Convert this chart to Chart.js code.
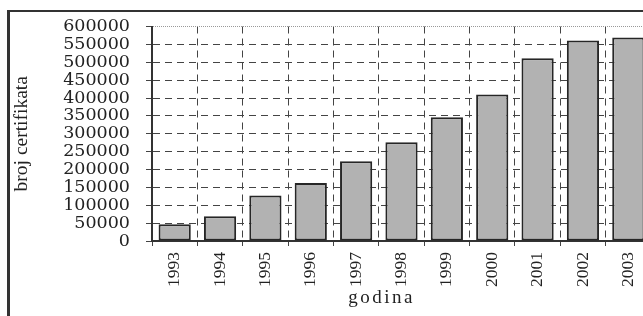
<!DOCTYPE html>
<html>
<head>
<meta charset="utf-8">
<script src="https://cdn.jsdelivr.net/npm/chart.js@4.4.0/dist/chart.umd.min.js"></script>
<style>
    html, body { margin: 0; padding: 0; background: #fff; overflow: hidden; }
    #wrap { position: relative; width: 643px; height: 316px; overflow: hidden; }
    #frame { position: absolute; left: 7px; top: 10px; width: 700px; height: 400px;
             border-left: 3px solid #333; border-top: 2px solid #333; }
    #certChart { position: absolute; left: 0; top: 0; }
</style>
</head>
<body>
<div id="wrap">
    <div id="frame"></div>
    <canvas id="certChart" width="662" height="316"></canvas>
</div>
<script>
// godine i broj certifikata (očitano sa slike)
const years = ['1993', '1994', '1995', '1996', '1997', '1998', '1999', '2000', '2001', '2002', '2003'];
const certificates = [47000, 69000, 127000, 162000, 223000, 276000, 346000, 410000, 511000, 561000, 569000];

const yMax = 600000;
const yStep = 50000;
const xTitle = 'godina';

// naslov x osi, malo razmaknuta slova i pomaknut ulijevo kao na originalu
const xTitlePlugin = {
    id: 'xTitle',
    afterDraw(chart) {
        const { ctx, chartArea } = chart;
        ctx.save();
        ctx.font = '19px "Liberation Serif"';
        ctx.fillStyle = '#222';
        ctx.letterSpacing = '2.5px';
        ctx.textAlign = 'center';
        ctx.textBaseline = 'middle';
        const x = chartArea.left + (chartArea.right - chartArea.left) * 0.46;
        ctx.fillText(xTitle, x, chart.height - 18);
        ctx.restore();
    }
};

const ctx = document.getElementById('certChart').getContext('2d');
new Chart(ctx, {
    type: 'bar',
    data: {
        labels: years,
        datasets: [{
            label: 'broj certifikata',
            data: certificates,
            backgroundColor: '#b2b2b2',
            borderColor: '#262626',
            borderWidth: 2,
            borderSkipped: false,
            categoryPercentage: 1,
            barPercentage: 0.71
        }]
    },
    options: {
        responsive: false,
        animation: false,
        devicePixelRatio: 1,
        layout: { padding: { top: 25, left: 6, right: 11, bottom: 4 } },
        plugins: {
            legend: { display: false },
            tooltip: { enabled: false }
        },
        scales: {
            x: {
                grid: {
                    offset: true,
                    color: '#444',
                    lineWidth: 1,
                    tickLength: 5,
                    tickColor: '#444',
                    tickBorderDash: []
                },
                border: { color: '#333', width: 2, dash: [7, 5] },
                ticks: {
                    color: '#222',
                    autoSkip: false,
                    minRotation: 90,
                    maxRotation: 90,
                    padding: 6,
                    font: { family: 'Liberation Serif', size: 17.5 }
                },
                afterFit: axis => { axis.height = 71; }
            },
            y: {
                min: 0,
                max: yMax,
                grid: {
                    color: c => (c.tick && c.tick.value === yMax) ? '#999' : '#444',
                    lineWidth: 1,
                    tickLength: 6,
                    tickColor: '#444',
                    tickBorderDash: []
                },
                border: {
                    color: '#333',
                    width: 2,
                    dash: c => (c.tick && c.tick.value === yMax) ? [1, 1] : [7, 5]
                },
                ticks: {
                    stepSize: yStep,
                    autoSkip: false,
                    color: '#222',
                    padding: 16,
                    font: { family: 'DejaVu Serif', size: 17.5 },
                    callback: v => String(v)
                },
                title: {
                    display: true,
                    text: 'broj certifikata',
                    color: '#222',
                    padding: { top: 4, bottom: 0 },
                    font: { family: 'Liberation Serif', size: 19.5 }
                },
                afterFit: axis => { axis.width = 146; }
            }
        }
    },
    plugins: [xTitlePlugin]
});
</script>
</body>
</html>
